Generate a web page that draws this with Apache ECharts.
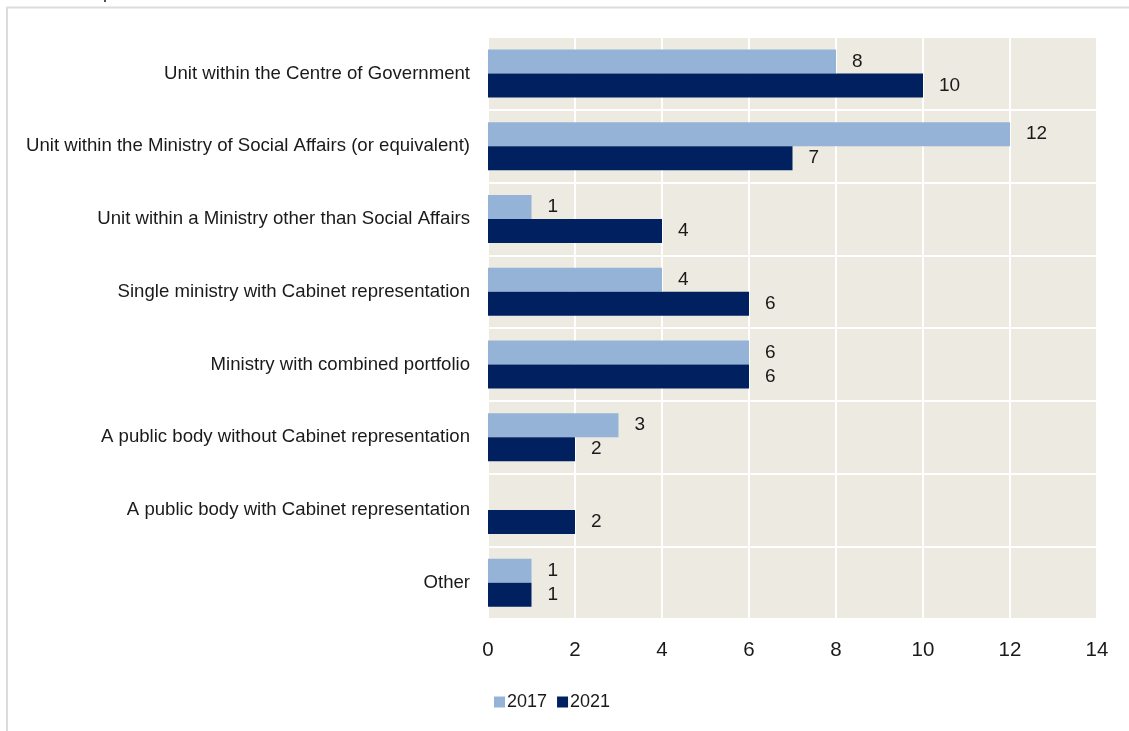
<!DOCTYPE html>
<html>
<head>
<meta charset="utf-8">
<script src="https://cdn.jsdelivr.net/npm/echarts@6/dist/echarts.min.js"></script>
<style>
  html, body { margin: 0; padding: 0; background: #ffffff; }
  #chart { width: 1129px; height: 731px; }
</style>
</head>
<body>
<div id="chart"></div>
<script>
// Categories, top to bottom
const categories = [
  'Unit within the Centre of Government',
  'Unit within the Ministry of Social Affairs (or equivalent)',
  'Unit within a Ministry other than Social Affairs',
  'Single ministry with Cabinet representation',
  'Ministry with combined portfolio',
  'A public body without Cabinet representation',
  'A public body with Cabinet representation',
  'Other'
];
const values2017 = [8, 12, 1, 4, 6, 3, 0, 1];
const values2021 = [10, 7, 4, 6, 6, 2, 2, 1];
const seriesNames = ['2017', '2021'];
const axisTicks = [0, 2, 4, 6, 8, 10, 12, 14];

const textColor = '#1a1a1a';
const fontFamily = '"Liberation Sans", Arial, sans-serif';

const chart = echarts.init(document.getElementById('chart'), null, { renderer: 'canvas' });

const labelOpt = {
  show: true,
  position: 'right',
  distance: 16,
  color: textColor,
  fontSize: 19,
  fontFamily: fontFamily,
  formatter: p => (p.value ? String(p.value) : '')
};

chart.setOption({
  animation: false,
  backgroundColor: '#ffffff',
  graphic: [
    {
      type: 'text',
      left: -11, top: -16,
      style: { text: 'Number of respondents', fill: textColor, font: '18px ' + fontFamily }
    },
    {
      type: 'line',
      shape: { x1: 7, y1: 7.5, x2: 1129, y2: 7.5 },
      style: { stroke: '#dcdcdc', lineWidth: 2 }
    },
    {
      type: 'line',
      shape: { x1: 7, y1: 7, x2: 7, y2: 731 },
      style: { stroke: '#dcdcdc', lineWidth: 2 }
    }
  ],
  grid: {
    left: 488,
    right: 32,
    top: 37,
    bottom: 112,
    show: true,
    backgroundColor: '#ECEAE1',
    borderWidth: 0
  },
  legend: {
    data: seriesNames,
    left: 489,
    top: 688,
    itemWidth: 11,
    itemHeight: 11,
    itemGap: 10,
    icon: 'rect',
    textStyle: { color: textColor, fontSize: 18, fontFamily: fontFamily, padding: [0, 0, 0, -3] }
  },
  xAxis: {
    type: 'value',
    min: axisTicks[0],
    max: axisTicks[axisTicks.length - 1],
    interval: axisTicks[1] - axisTicks[0],
    axisLine: { show: false },
    axisTick: { show: false },
    axisLabel: { color: textColor, fontSize: 20.5, fontFamily: fontFamily, margin: 21 },
    splitLine: { show: true, lineStyle: { color: '#ffffff', width: 2 } }
  },
  yAxis: {
    type: 'category',
    data: categories,
    inverse: true,
    axisLine: { show: false },
    axisTick: { show: false },
    axisLabel: { color: textColor, fontSize: 18.6, fontFamily: fontFamily, margin: 18 },
    splitLine: { show: true, lineStyle: { color: '#ffffff', width: 2 } }
  },
  series: [
    {
      name: seriesNames[0],
      type: 'bar',
      data: values2017,
      barWidth: 24,
      barGap: '0%',
      itemStyle: { color: '#95B3D7' },
      label: labelOpt
    },
    {
      name: seriesNames[1],
      type: 'bar',
      data: values2021,
      barWidth: 24,
      barGap: '0%',
      itemStyle: { color: '#002060' },
      label: labelOpt
    }
  ]
});
</script>
</body>
</html>
